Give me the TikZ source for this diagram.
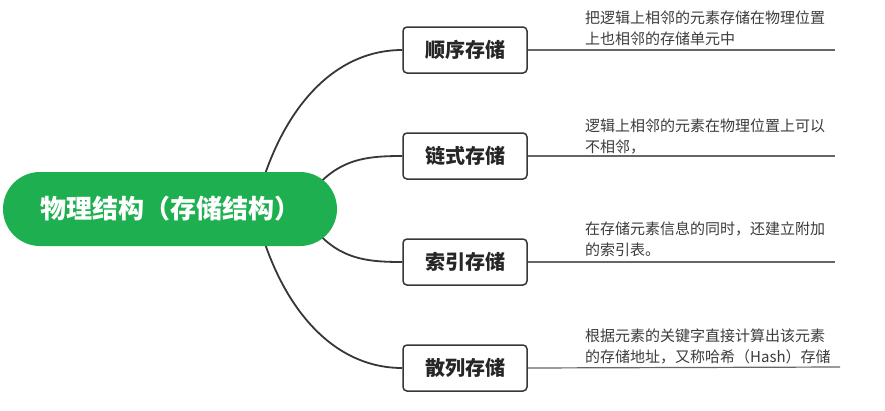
\documentclass[tikz,border=0pt]{standalone}
\usepackage{fontspec}
\setmainfont{Noto Sans CJK SC}
\pgfdeclarelayer{background}
\pgfsetlayers{background,main}
\definecolor{rootgreen}{RGB}{30,176,80}
\definecolor{linegray}{RGB}{55,55,55}
\definecolor{descgray}{RGB}{60,60,60}
\begin{document}
\begin{tikzpicture}[x=1pt,y=-1pt,
  rootbox/.style={rectangle, rounded corners=37pt, fill=rootgreen, minimum width=334pt, minimum height=74pt, text=white, font=\fontsize{26}{30}\selectfont\bfseries, inner sep=0pt},
  topicbox/.style={rectangle, rounded corners=4pt, draw=linegray, line width=1.5pt, fill=white, minimum width=124pt, minimum height=46pt, font=\fontsize{20}{24}\selectfont\bfseries, text=black!85, inner sep=0pt},
  desc/.style={anchor=north west, inner sep=0pt, align=left, text=descgray, font=\fontsize{15}{21}\selectfont},
  branch/.style={draw=linegray, line width=1.8pt},
  rule/.style={draw=gray!80!black, line width=1.2pt}]
\useasboundingbox (0,0) rectangle (885,410);
\node[rootbox] (root) at (170,209) {物理结构（存储结构）};
\node[topicbox] (b1) at (465,50) {顺序存储};
\node[topicbox] (b2) at (465,156) {链式存储};
\node[topicbox] (b3) at (465,262) {索引存储};
\node[topicbox] (b4) at (465,368) {散列存储};
\coordinate (e1) at (835,50);
\coordinate (e2) at (835,156);
\coordinate (e3) at (835,262);
\coordinate (e4) at (840,367);
\begin{pgfonlayer}{background}
\fill[white] (0,0) rectangle (885,410);
\draw[branch] ([xshift=85pt]root.center) .. controls (277,115) and (330,50) .. (b1.west);
\draw[branch] ([xshift=130pt]root.center) .. controls (330,160) and (360,156) .. (b2.west);
\draw[branch] ([xshift=130pt]root.center) .. controls (330,258) and (360,262) .. (b3.west);
\draw[branch] ([xshift=85pt]root.center) .. controls (277,303) and (330,368) .. (b4.west);
\end{pgfonlayer}
\draw[rule] (b1.east) -- (e1);
\draw[rule] (b2.east) -- (e2);
\draw[rule] (b3.east) -- (e3);
\draw[rule] (b4.east) -- (e4);
\node[desc] (d1) at (585,11) {把逻辑上相邻的元素存储在物理位置\\上也相邻的存储单元中};
\node[desc] (d2) at (585,119) {逻辑上相邻的元素在物理位置上可以\\不相邻，};
\node[desc] (d3) at (585,222) {在存储元素信息的同时，还建立附加\\的索引表。};
\node[desc] (d4) at (585,329) {根据元素的关键字直接计算出该元素\\的存储地址，又称哈希（Hash）存储};
\end{tikzpicture}
\end{document}
